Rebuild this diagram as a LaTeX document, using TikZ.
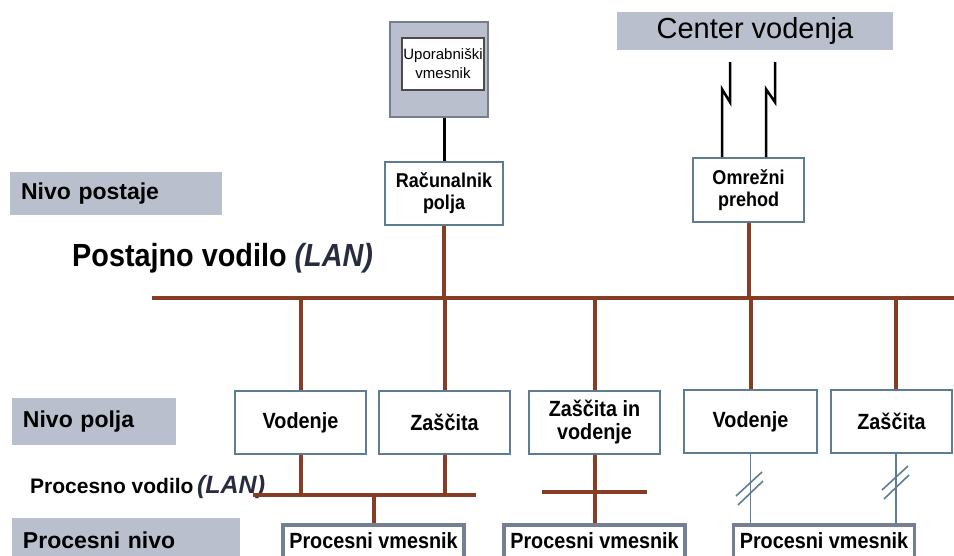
\documentclass[tikz,border=0pt]{standalone}
\usepackage{fontspec}
\setmainfont{Liberation Sans}
\newfontfamily\nb{Liberation Sans}[FakeStretch=0.9]
\usetikzlibrary{calc}

\definecolor{labelgray}{RGB}{186,191,206}
\definecolor{busbrown}{RGB}{135,60,36}
\definecolor{boxblue}{RGB}{95,125,145}
\definecolor{pvgray}{RGB}{118,126,146}
\definecolor{uigray}{RGB}{120,125,140}
\definecolor{lanc}{RGB}{40,45,62}

\begin{document}
\begin{tikzpicture}[x=1pt,y=-1pt,
  lvl/.style={fill=labelgray, inner xsep=11pt, inner ysep=0pt, align=left,
    font=\bfseries\fontsize{23}{25}\selectfont},
  fbox/.style={draw=boxblue, line width=1.8pt, fill=white, inner sep=0pt,
    align=center, font=\nb\bfseries\fontsize{22}{23}\selectfont},
  sbox/.style={fbox, font=\nb\bfseries\fontsize{20}{22}\selectfont},
  pvbox/.style={draw=pvgray, line width=3.5pt, fill=white, anchor=north,
    minimum width=181pt, inner xsep=0pt, inner ysep=8pt,
    text height=16pt, text depth=24pt,
    font=\nb\bfseries\fontsize{22}{23}\selectfont},
  bus/.style={draw=busbrown, line width=4pt},
  pbus/.style={draw=busbrown, line width=4pt},
  radio/.style={draw=black, line width=2.5pt},
  serial/.style={draw=boxblue, line width=1.8pt},
  tick/.style={draw=boxblue, line width=1.6pt}]

\path[use as bounding box] (0,0) rectangle (954,556);
\clip (0,0) rectangle (954,556);

% level labels
\node[lvl, text width=190pt, minimum height=43pt] (np) at (116,193.5) {Nivo postaje};
\node[lvl, text width=142pt, minimum height=47pt] (npo) at (94,421.5) {Nivo polja};
\node[lvl, text width=206pt, minimum height=44pt] (pn) at (126,540) {Procesni nivo};

% bus labels
\node[anchor=base west, inner sep=0pt, font=\nb\bfseries\fontsize{32}{34}\selectfont] (pvl) at (72,267)
  {Postajno vodilo {\itshape\color{lanc}(LAN)}};
\node[anchor=base west, inner sep=0pt, font=\bfseries\fontsize{21}{22}\selectfont] (prl) at (30,493)
  {Procesno vodilo\,{\itshape\fontsize{25}{26}\selectfont\color{lanc}(LAN)}};

% control centre
\node[fill=labelgray, minimum width=276pt, minimum height=38pt, inner sep=0pt,
  font=\fontsize{29}{31}\selectfont] (cv) at (755,31) {Center vodenja};

% user interface
\node[draw=uigray, line width=2pt, fill=labelgray, minimum width=98pt, minimum height=95pt] (ui) at (439,69.5) {};
\node[draw=black!70, line width=1.4pt, fill=white, minimum width=82pt, minimum height=52pt,
  inner sep=0pt, align=center, font=\fontsize{15}{19}\selectfont] (uii) at (443,64) {Uporabniški\\vmesnik};

% station level
\node[sbox, minimum width=118pt, minimum height=63pt] (rac) at (444,193.5) {Računalnik\\polja};
\node[sbox, minimum width=111pt, minimum height=64pt] (omr) at (748.5,190) {Omrežni\\prehod};

% bay level
\node[fbox, minimum width=131pt, minimum height=63pt] (vod1) at (300.5,422.5) {Vodenje};
\node[fbox, minimum width=131pt, minimum height=63pt] (zas1) at (444.5,422.5) {Zaščita};
\node[fbox, minimum width=131pt, minimum height=63pt] (ziv) at (594.5,422.5) {Zaščita in\\vodenje};
\node[fbox, minimum width=133pt, minimum height=63pt] (vod2) at (750.5,421.5) {Vodenje};
\node[fbox, minimum width=121pt, minimum height=63pt] (zas2) at (891.5,421.5) {Zaščita};

% process interfaces
\node[pvbox] (pv1) at (373.5,523) {Procesni vmesnik};
\node[pvbox] (pv2) at (594.5,523) {Procesni vmesnik};
\node[pvbox] (pv3) at (824,523) {Procesni vmesnik};

% station bus
\coordinate (busL) at (152,298);
\coordinate (busR) at (960,298);
\coordinate (d5) at (896,298);
\draw[bus] (busL) -- (busR);
\draw[bus] (rac.south) -- (rac.south |- busL);
\draw[bus] (omr.south) -- (omr.south |- busL);
\draw[bus] (vod1.north) -- (vod1.north |- busL);
\draw[bus] (zas1.north) -- (zas1.north |- busL);
\draw[bus] (ziv.north) -- (ziv.north |- busL);
\draw[bus] (vod2.north) -- (vod2.north |- busL);
\draw[bus] (d5) -- (d5 |- zas2.north);

% user interface link
\draw[draw=black, line width=3pt] (ui.south -| rac.north) -- (rac.north);

% links to the control centre
\coordinate (z1) at (722,0);
\coordinate (z2) at (766,0);
\draw[radio] (omr.north -| z1) -- ++(0,-68) -- ++(8,13) -- ++(0,-40);
\draw[radio] (omr.north -| z2) -- ++(0,-68) -- ++(9,13) -- ++(0,-40);

% process bus 1
\coordinate (pbL) at (253,495);
\coordinate (pbR) at (476,495);
\draw[pbus] (pbL) -- (pbR);
\draw[pbus] (vod1.south) -- (vod1.south |- pbL);
\draw[pbus] (zas1.south) -- (zas1.south |- pbL);
\draw[pbus] (pv1.north) -- (pv1.north |- pbL);

% process bus 2
\coordinate (qbL) at (542,492);
\coordinate (qbR) at (647,492);
\draw[pbus] (qbL) -- (qbR);
\draw[pbus] (ziv.south) -- (pv2.north);

% serial links with break marks
\draw[serial] (vod2.south) -- (vod2.south |- pv3.north);
\draw[serial] (d5 |- zas2.south) -- (d5 |- pv3.north);
\coordinate (t1) at (750,489);
\coordinate (t2) at (896,483);
\foreach \t in {t1,t2}{
  \draw[tick] ($(\t)+(12,-17)$) -- ($(\t)+(-14,7)$);
  \draw[tick] ($(\t)+(13,-8)$) -- ($(\t)+(-12,16)$);
}
\end{tikzpicture}
\end{document}
